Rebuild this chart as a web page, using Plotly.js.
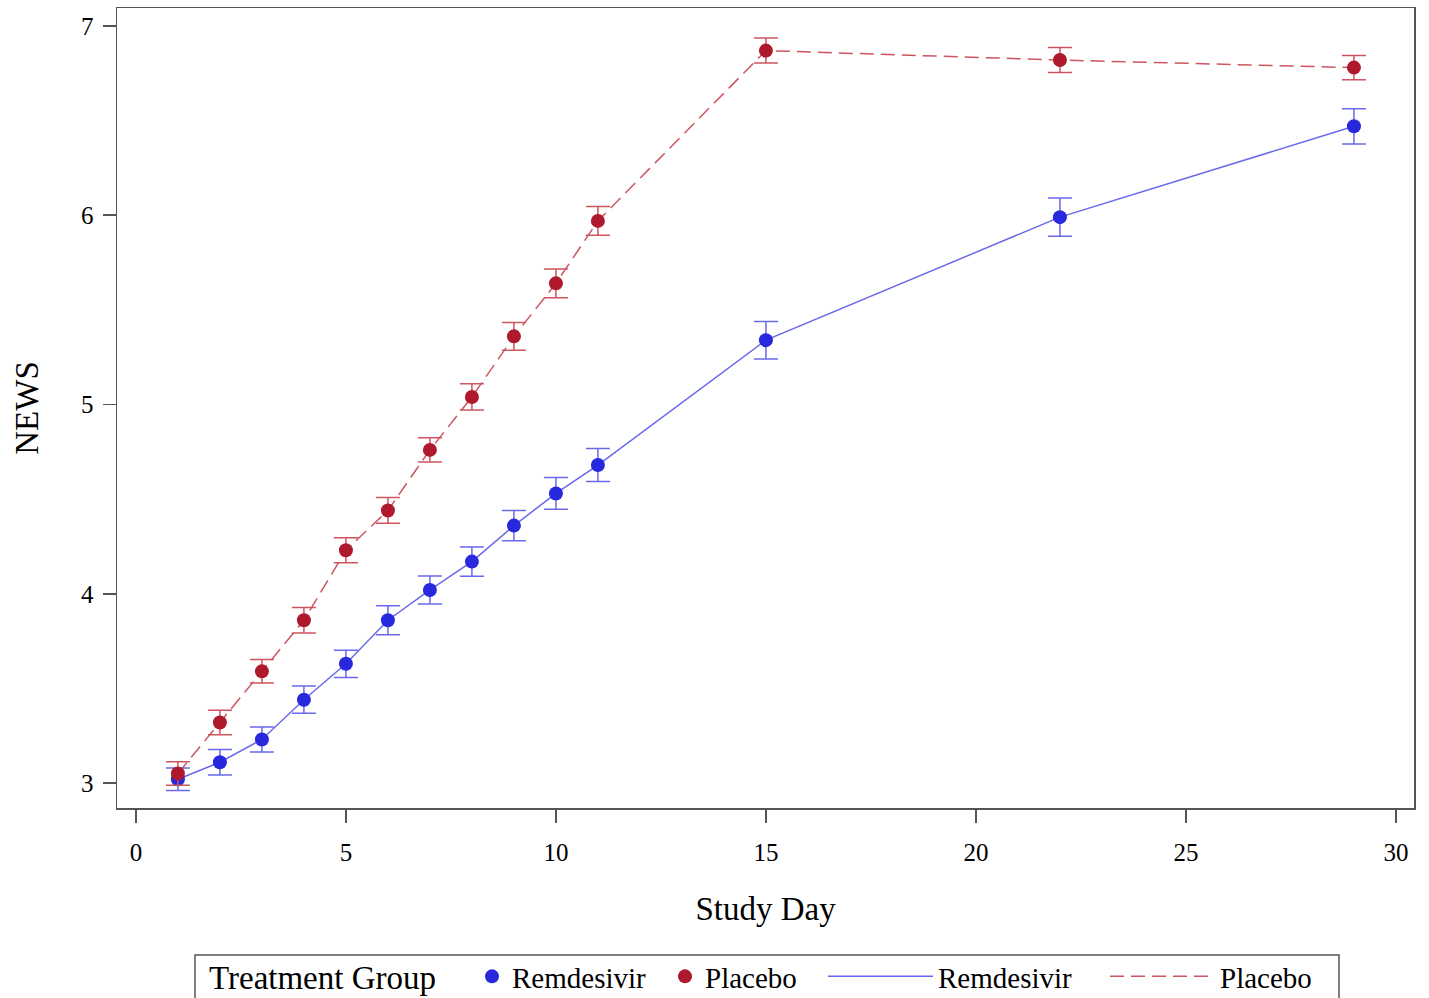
<!DOCTYPE html>
<html>
<head>
<meta charset="utf-8">
<script src="https://cdn.plot.ly/plotly-3.0.1.min.js"></script>
<style>html,body{margin:0;padding:0;background:#fff;}#chart{width:1429px;height:998px;}</style>
</head>
<body>
<div id="chart"></div>
<script>
const days = [1, 2, 3, 4, 5, 6, 7, 8, 9, 10, 11, 15, 22, 29];
const remdesivirMean = [3.02, 3.11, 3.23, 3.44, 3.63, 3.86, 4.02, 4.17, 4.36, 4.53, 4.68, 5.34, 5.99, 6.47];
const remdesivirErr  = [0.06, 0.067, 0.066, 0.072, 0.072, 0.077, 0.074, 0.077, 0.08, 0.084, 0.087, 0.099, 0.101, 0.093];
const placeboMean = [3.05, 3.32, 3.59, 3.86, 4.23, 4.44, 4.76, 5.04, 5.36, 5.64, 5.97, 6.87, 6.82, 6.78];
const placeboErr  = [0.062, 0.065, 0.062, 0.068, 0.066, 0.068, 0.064, 0.069, 0.073, 0.076, 0.076, 0.066, 0.066, 0.064];
const groupNames = ["Remdesivir", "Placebo"];
const legendTitle = "Treatment Group";

const blueMarker = "rgb(40,40,220)";
const blueLine = "rgb(105,105,235)";
const redMarker = "rgb(175,25,45)";
const redLine = "rgb(205,85,95)";

const traces = [
  {x: days, y: remdesivirMean, name: groupNames[0], type: "scatter", mode: "lines",
   line: {color: blueLine, width: 1.5, dash: "solid"}, legend: "legend2", legendrank: 3, hoverinfo: "skip"},
  {x: days, y: placeboMean, name: groupNames[1], type: "scatter", mode: "lines",
   line: {color: redLine, width: 1.5, dash: "14px,7px"}, legend: "legend2", legendrank: 4, hoverinfo: "skip"},
  {x: days, y: remdesivirMean, name: groupNames[0], type: "scatter", mode: "markers",
   marker: {color: blueMarker, size: 14},
   error_y: {type: "data", array: remdesivirErr, visible: true, color: blueLine, thickness: 1.5, width: 12},
   legend: "legend", legendrank: 1},
  {x: days, y: placeboMean, name: groupNames[1], type: "scatter", mode: "markers",
   marker: {color: redMarker, size: 14},
   error_y: {type: "data", array: placeboErr, visible: true, color: redLine, thickness: 1.5, width: 12},
   legend: "legend", legendrank: 2}
];

const font = "Liberation Serif, Times New Roman, serif";
const legendFont = {family: font, size: 29, color: "#000"};
const layout = {
  width: 1429, height: 998,
  margin: {l: 117, r: 15, t: 8, b: 190, autoexpand: false},
  paper_bgcolor: "#fff", plot_bgcolor: "#fff",
  font: {family: font, color: "#000", size: 24},
  showlegend: true,
  xaxis: {
    range: [-0.45, 30.43], tickvals: [0, 5, 10, 15, 20, 25, 30],
    showgrid: false, zeroline: false, showline: true, mirror: true,
    linecolor: "#555", linewidth: 1.5, ticks: "outside", ticklen: 13, tickcolor: "#555", tickwidth: 1.5,
    tickfont: {family: font, size: 25, color: "#000"}, ticklabelstandoff: 8,
    title: {text: "Study Day", font: {family: font, size: 33, color: "#000"}, standoff: 32}
  },
  yaxis: {
    range: [2.868, 7.095], tickvals: [3, 4, 5, 6, 7],
    showgrid: false, zeroline: false, showline: true, mirror: true,
    linecolor: "#555", linewidth: 1.5, ticks: "outside", ticklen: 13, tickcolor: "#555", tickwidth: 1.5,
    tickfont: {family: font, size: 25, color: "#000"}, ticklabelstandoff: 4,
    title: {text: "NEWS", font: {family: font, size: 33, color: "#000"}, standoff: 32}
  },
  legend: {
    orientation: "h", x: (472 - 117) / 1297, xanchor: "left", y: -(951 - 808) / 800, yanchor: "top",
    borderwidth: 0, bgcolor: "rgba(0,0,0,0)", font: legendFont,
    entrywidth: 148, traceorder: "normal"
  },
  legend2: {
    orientation: "h", x: (823 - 117) / 1297, xanchor: "left", y: -(951 - 808) / 800, yanchor: "top",
    borderwidth: 0, bgcolor: "rgba(0,0,0,0)", font: legendFont,
    itemwidth: 105, entrywidth: 162, traceorder: "normal"
  },
  shapes: [{
    type: "rect", xref: "paper", yref: "paper",
    x0: (195 - 117) / 1297, x1: (1339 - 117) / 1297, y0: -(955 - 808) / 800, y1: -(1010 - 808) / 800,
    line: {color: "#555", width: 1.5}, fillcolor: "rgba(0,0,0,0)", layer: "below"
  }],
  annotations: [{
    text: legendTitle, xref: "paper", yref: "paper",
    x: (207 - 117) / 1297, xanchor: "left", y: -(978 - 808) / 800, yanchor: "middle",
    showarrow: false, font: {family: font, size: 33, color: "#000"}
  }]
};

Plotly.newPlot("chart", traces, layout, {displayModeBar: false, staticPlot: true});
</script>
</body>
</html>
